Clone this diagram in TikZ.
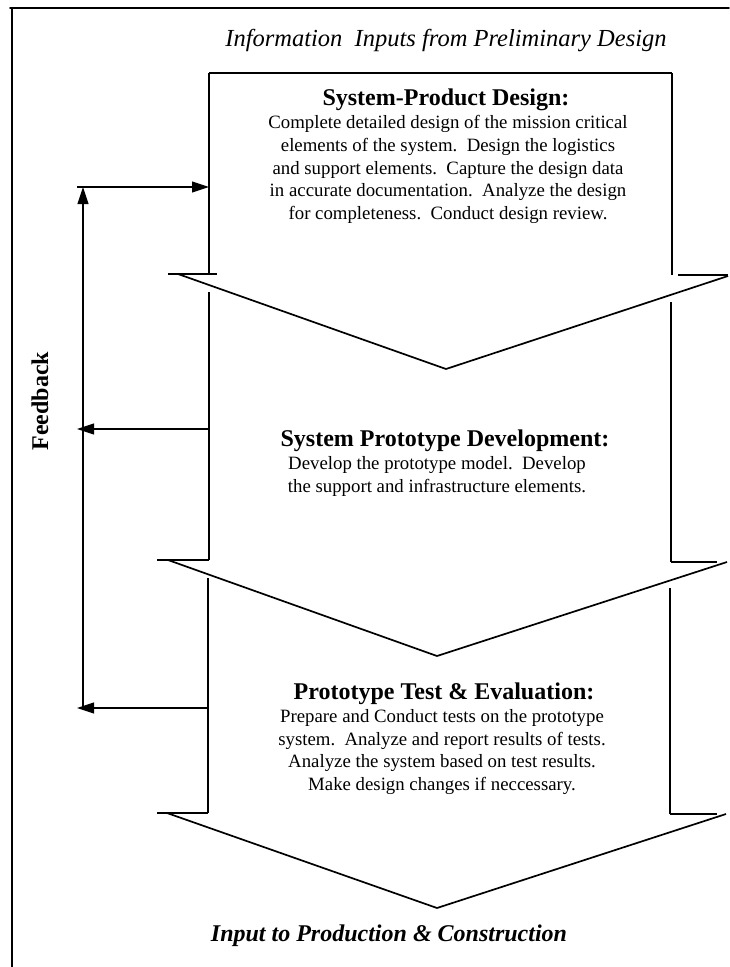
\documentclass[tikz,border=0pt]{standalone}
\usepackage{fontspec}
\setmainfont{Liberation Serif}
\usetikzlibrary{arrows.meta}

\tikzset{
  frameline/.style={line width=1.8pt, line cap=round},
  sideline/.style={line width=1.1pt},
  wingline/.style={line width=1.7pt, line join=miter},
  tabline/.style={line width=1.5pt},
  fbline/.style={line width=1.1pt},
  fbarrow/.style={fbline, -{Triangle[length=17pt,width=11pt]}},
  heading/.style={anchor=base, inner sep=0pt, font=\fontsize{24}{28}\selectfont\bfseries},
  body/.style={anchor=base, inner sep=0pt, font=\fontsize{18.8}{22.8}\selectfont},
  caption/.style={anchor=base, inner sep=0pt, font=\fontsize{24.5}{28}\selectfont\itshape},
}

\begin{document}
\begin{tikzpicture}[x=1pt, y=-1pt]
  \useasboundingbox (0,0) rectangle (729,967);

  % page frame (top and left rules)
  \draw[frameline] (10,8) -- (729,8);
  \draw[frameline] (12,8) -- (12,967);

  % headings above and below the flow
  \node[caption] (topcap) at (446,46) {Information\ \ Inputs from Preliminary Design};
  \node[caption, font=\fontsize{24}{28}\selectfont\bfseries\itshape] (botcap) at (389,941)
    {Input to Production \& Construction};

  % ---------- stage 1 ----------
  \coordinate (s1TL) at (209,73);
  \coordinate (s1TR) at (672,73);
  \coordinate (s1BL) at (209,274);
  \coordinate (s1BR) at (672,275);
  \coordinate (s1tip) at (446,369);
  \draw[sideline] (s1TL) -- (s1TR);
  \draw[sideline] (s1TL) -- (s1BL);
  \draw[sideline] (s1TR) -- (s1BR);
  \draw[tabline] (168,274) -- (217,274);
  \draw[tabline] (678,275) -- (728,275);
  \draw[wingline] (178,274) -- (s1tip) -- (728,276);

  % ---------- stage 2 ----------
  \coordinate (s2TL) at (209,292);
  \coordinate (s2TR) at (671,302);
  \coordinate (s2BL) at (209,560);
  \coordinate (s2BR) at (671,562);
  \coordinate (s2tip) at (437,656);
  \draw[sideline] (s2TL) -- (s2BL);
  \draw[sideline] (s2TR) -- (s2BR);
  \draw[tabline] (157,560) -- (209,560);
  \draw[tabline] (671,562) -- (717,562);
  \draw[wingline] (168,560) -- (s2tip) -- (727,562);

  % ---------- stage 3 ----------
  \coordinate (s3TL) at (208,578);
  \coordinate (s3TR) at (670,588);
  \coordinate (s3BL) at (208,813);
  \coordinate (s3BR) at (670,814);
  \coordinate (s3tip) at (437,908);
  \draw[sideline] (s3TL) -- (s3BL);
  \draw[sideline] (s3TR) -- (s3BR);
  \draw[tabline] (157,813) -- (208,813);
  \draw[tabline] (670,814) -- (717,814);
  \draw[wingline] (167,813) -- (s3tip) -- (726,814);

  % ---------- stage texts ----------
  \node[heading] (h1) at (446,105) {System-Product Design:};
  \foreach \txt [count=\i] in {
      Complete detailed design of the mission critical,
      elements of the system.\ \ Design the logistics,
      and support elements.\ \ Capture the design data,
      in accurate documentation.\ \ Analyze the design,
      for completeness.\ \ Conduct design review.}
    \node[body] (t1-\i) at (448,{128.5+(\i-1)*22.8}) {\txt};

  \node[heading] (h2) at (445,446) {System Prototype Development:};
  \foreach \txt [count=\i] in {
      Develop the prototype model.\ \ Develop,
      the support and infrastructure elements.}
    \node[body] (t2-\i) at (437,{469.5+(\i-1)*22.8}) {\txt};

  \node[heading] (h3) at (444,699) {Prototype Test \& Evaluation:};
  \foreach \txt [count=\i] in {
      Prepare and Conduct tests on the prototype,
      system.\ \ Analyze and report results of tests.,
      Analyze the system based on test results.,
      Make design changes if neccessary.}
    \node[body] (t3-\i) at (442,{722.5+(\i-1)*22.5}) {\txt};

  % ---------- feedback loop ----------
  \coordinate (fbTop) at (83,187);
  \coordinate (fbTopL) at (77,187);
  \coordinate (fbBot) at (83,708);
  \coordinate (in1) at (209,187);
  \coordinate (out2) at (209,429);
  \coordinate (fbMid) at (77,429);
  \coordinate (out3) at (208,708);
  \coordinate (fbLow) at (77,708);

  \draw[fbarrow] (fbBot) -- (fbTop);
  \draw[fbarrow] (fbTopL) -- (in1);
  \draw[fbarrow] (out2) -- (fbMid);
  \draw[fbarrow] (out3) -- (fbLow);

  \node[anchor=base, inner sep=0pt, rotate=90, font=\fontsize{24}{28}\selectfont\bfseries]
    (fb) at (48,401) {Feedback};
\end{tikzpicture}
\end{document}
